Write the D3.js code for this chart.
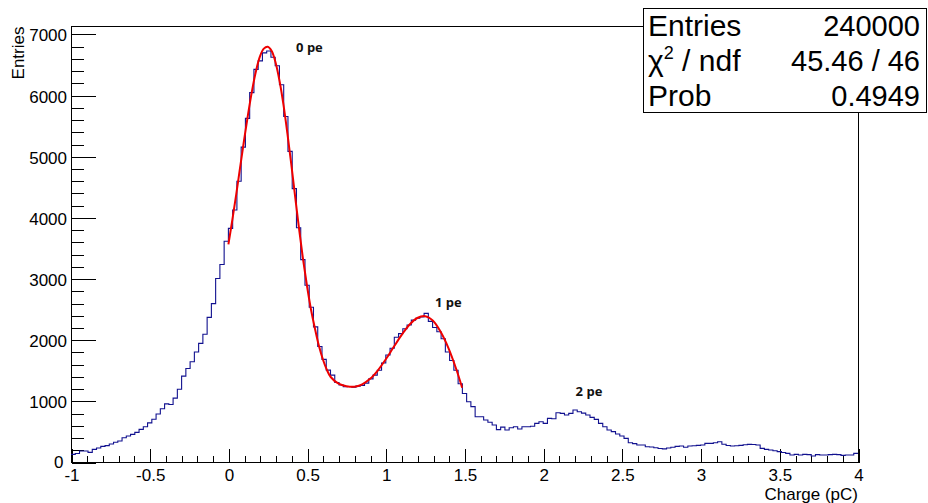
<!DOCTYPE html>
<html><head><meta charset="utf-8">
<script src="https://cdn.jsdelivr.net/npm/d3@7"></script>
<style>
body{margin:0;background:#fff;}
svg{display:block;font-family:"Liberation Sans",Arial,Helvetica,sans-serif;}
</style></head><body>
<svg id="c" width="928" height="503"></svg>
<script>
// ---- data ----
const xRange = [-1, 4];
const nBins = 185;
const counts = [
 125,140,180,180,158,207,229,256,267,294,
 322,343,397,425,452,485,534,577,640,700,
 785,870,950,940,1045,1190,1405,1530,1640,1800,
 1940,2090,2365,2590,3000,3230,3610,3820,4120,4590,
 5150,5620,6040,6420,6560,6690,6720,6620,6480,6170,
 5650,5080,4470,3830,3310,2890,2530,2210,1890,1678,
 1503,1420,1300,1260,1230,1235,1225,1240,1250,1290,
 1360,1420,1500,1620,1750,1860,2040,2100,2180,2240,
 2320,2350,2370,2430,2300,2200,2130,2015,1800,1660,
 1500,1280,1120,985,905,740,740,686,650,605,
 530,570,523,561,577,539,577,577,585,632,
 659,632,714,708,806,795,768,795,850,822,
 800,768,730,697,632,577,523,496,458,425,
 387,316,300,278,278,250,245,234,222,215,
 228,240,255,261,240,261,265,272,278,305,
 305,316,332,290,270,261,265,272,283,288,
 285,278,223,207,196,185,169,155,141,114,
 125,114,125,120,98,120,114,114,120,125,
 120,109,114,114,141
];
const fitX = [0,0.025,0.05,0.075,0.1,0.125,0.15,0.175,0.2,0.225,0.25,0.275,0.3,0.325,0.35,0.375,0.4,0.425,0.45,0.475,0.5,0.525,0.55,0.575,0.6,0.625,0.65,0.7,0.75,0.8,0.85,0.9,0.95,1.0,1.05,1.1,1.15,1.2,1.25,1.3,1.35,1.4,1.45,1.485];
const fitY = [3560,3960,4380,4830,5270,5690,6070,6390,6630,6760,6790,6720,6530,6230,5840,5370,4860,4320,3790,3300,2870,2490,2180,1900,1680,1510,1390,1280,1240,1230,1270,1360,1500,1680,1880,2075,2245,2355,2385,2310,2120,1850,1500,1215];
const xMajorTicks = [-1,-0.5,0,0.5,1,1.5,2,2.5,3,3.5,4];
const yMajorTicks = [0,1000,2000,3000,4000,5000,6000,7000];
const statsLabels = ["Entries","χ2 / ndf","Prob"];
const statsValues = ["240000","45.46 / 46","0.4949"];
const peakLabels = ["0 pe","1 pe","2 pe"];
const xTitle = "Charge (pC)";
const yTitle = "Entries";

// ---- layout ----
const svg = d3.select("#c");
const L = 71, R = 858, T = 26, B = 462;
const yMax = 7130;
const x = d3.scaleLinear().domain(xRange).range([L, R]);
const y = d3.scaleLinear().domain([0, yMax]).range([B, T]);
const binW = (xRange[1]-xRange[0]) / nBins;

// frame
svg.append("rect").attr("x", L+0.5).attr("y", T+0.5).attr("width", R-L).attr("height", B-T)
  .attr("fill","none").attr("stroke","#000").attr("stroke-width",1);

// x axis
const xMinor = d3.range(-10, 41).map(i => i/10).filter(v => Math.abs(v*2 - Math.round(v*2)) > 1e-6);
const gx = svg.append("g").attr("transform", `translate(0.5,${B+0.5})`);
gx.call(d3.axisBottom(x).tickValues(xMajorTicks).tickSize(-14).tickPadding(6).tickFormat(d => String(d)));
gx.append("g").call(d3.axisBottom(x).tickValues(xMinor).tickSize(-7).tickFormat(""));
gx.selectAll(".domain").remove();
gx.selectAll("text").attr("font-size", 17).attr("font-family", "Liberation Sans, Arial, sans-serif").attr("fill","#000");

// y axis
const yMinor = d3.range(0, 7001, 200).filter(v => v % 1000 !== 0);
const gy = svg.append("g").attr("transform", `translate(${L+0.5},0.5)`);
gy.call(d3.axisLeft(y).tickValues(yMajorTicks).tickSize(-24).tickPadding(4.5).tickFormat(d => String(d)));
gy.append("g").call(d3.axisLeft(y).tickValues(yMinor).tickSize(-12).tickFormat(""));
gy.selectAll(".domain").remove();
gy.selectAll("text").attr("font-size", 17).attr("dy","0.38em").attr("font-family", "Liberation Sans, Arial, sans-serif").attr("fill","#000");
// keep the "0" label clear of the "-1" label below it
gy.selectAll(".tick text").filter(d => d === 0).attr("x", -8).attr("dy", "0.3em");
svg.selectAll(".tick line").attr("stroke","#000").attr("shape-rendering","crispEdges");

// titles
svg.append("text").attr("x", R).attr("y", 499.5).attr("text-anchor","end")
  .attr("font-size", 17).text(xTitle);
svg.append("text").attr("transform", `translate(24,${T+0.5}) rotate(-90)`).attr("text-anchor","end")
  .attr("font-size", 17).text(yTitle);

// histogram
const pts = counts.map((c,i) => [xRange[0] + i*binW, c]);
pts.push([xRange[1], counts[counts.length-1]]);
svg.append("path").datum(pts)
  .attr("d", d3.line().x(d => x(d[0])).y(d => y(d[1])).curve(d3.curveStepAfter))
  .attr("fill","none").attr("stroke","#11118f").attr("stroke-width",1.1);

// fit
svg.append("path").datum(fitX.map((v,i) => [v, fitY[i]]))
  .attr("d", d3.line().x(d => x(d[0])).y(d => y(d[1])).curve(d3.curveCatmullRom.alpha(0.5)))
  .attr("fill","none").attr("stroke","#ee0000").attr("stroke-width",2);

// peak labels
const peakAnchors = [[0.43, 6700],[1.313, 2533],[2.206, 1083]];
peakLabels.forEach((t,i) => {
  svg.append("text").attr("x", x(peakAnchors[i][0])).attr("y", y(peakAnchors[i][1]))
    .attr("font-family","Open Sans, sans-serif").attr("font-weight",700).attr("font-size",13)
    .attr("fill","#111").text(t);
});

// stats box
const bx = 643, by = 8, bw = 283, bh = 104;
svg.append("rect").attr("x", bx+0.5).attr("y", by+0.5).attr("width", bw).attr("height", bh)
  .attr("fill","#fff").attr("stroke","#000").attr("stroke-width",1);
const rowBase = [36, 71, 106];
statsLabels.forEach((lab,i) => {
  const t = svg.append("text").attr("x", bx+5).attr("y", rowBase[i]).attr("font-size", 30).attr("fill","#000");
  if (lab.startsWith("χ2")) {
    t.append("tspan").text("χ");
    t.append("tspan").attr("font-size", 18).attr("dy", -12).text("2");
    t.append("tspan").attr("dy", 12).text(lab.slice(2));
  } else {
    t.text(lab);
  }
  svg.append("text").attr("x", 920).attr("y", rowBase[i]).attr("text-anchor","end")
    .attr("font-size", 29).attr("fill","#000").text(statsValues[i]);
});
</script>
</body></html>
